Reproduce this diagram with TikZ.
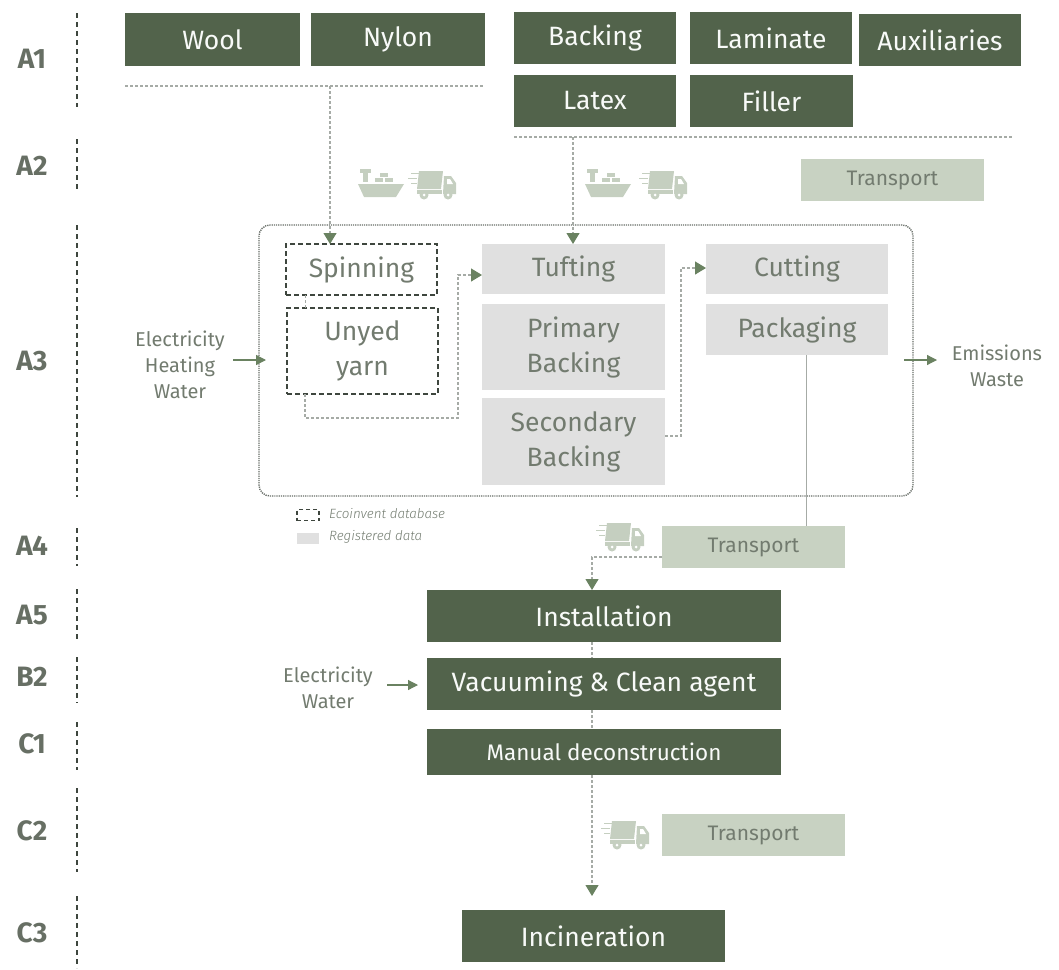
\documentclass[tikz,border=0pt]{standalone}
\usepackage{fontspec}
\setmainfont{Fira Sans}[ItalicFont=Fira Sans Light Italic]
\usetikzlibrary{arrows.meta,calc}
\definecolor{dk}{HTML}{52634B}
\definecolor{lt}{HTML}{C8D2C2}
\definecolor{gr}{HTML}{E0E0E0}
\definecolor{ln}{HTML}{A6ABA6}
\definecolor{ar}{HTML}{6A8261}
\definecolor{tx}{HTML}{727B6F}
\definecolor{ic}{HTML}{C5CFC0}
\definecolor{dsh}{HTML}{3E463E}
\tikzset{
 bx/.style={inner sep=0pt,outer sep=0pt,align=center,font=\fontsize{26.5}{35}\selectfont},
 dark/.style={bx,fill=dk,text=white!88!lt},
 light/.style={bx,fill=lt,text=tx,font=\fontsize{21}{26}\selectfont},
 grey/.style={bx,fill=gr,text=tx},
 eco/.style={bx,draw=dsh,line width=1.5pt,dash pattern=on 5pt off 3pt,text=tx},
 tag/.style={font=\bfseries\fontsize{28}{30}\selectfont,text=tx!90!black},
 side/.style={font=\fontsize{20}{26}\selectfont,text=tx,align=center,inner sep=0pt},
 leg/.style={font=\itshape\fontsize{13.4}{15}\selectfont,text=tx,anchor=west,inner sep=0pt},
 conn/.style={draw=ln,line width=1.2pt,dash pattern=on 3pt off 2pt},
 flow/.style={conn,-{Triangle[length=11pt,width=13pt,color=ar]}},
 small/.style={draw=ar,line width=1.2pt,-{Triangle[length=10pt,width=10pt,color=ar]}},
 sep/.style={draw=dsh,line width=1.5pt,dash pattern=on 5pt off 4pt},
 ship/.pic={
  \fill[ic] (0,0) -- (46,0) -- (38,13) -- (6,13) -- cycle;
  \fill[ic] (5,-2) rectangle (10,-15);
  \fill[ic] (2,-15) rectangle (13,-11);
  \fill[ic] (17,-2) rectangle (25,-6);\fill[ic] (27,-2) rectangle (35,-6);
  \fill[ic] (22,-7) rectangle (30,-11);
 },
 truck/.pic={
  \fill[ic] (9,-15) -- (33,-15) -- (31,3) -- (7,3) -- cycle;
  \fill[ic] (1,-13) rectangle (9,-12);\fill[ic] (-2,-8) rectangle (7,-7);\fill[ic] (1,-3) rectangle (7,-2);
  \fill[ic] (34,-10) -- (41,-10) -- (46,-3) -- (46,8) -- (33,8) -- cycle;
  \fill[white] (37,-7) -- (40,-7) -- (43,-2) -- (37,-2) -- cycle;
  \fill[ic] (7,4) rectangle (32,8);
  \fill[ic] (14,9) circle (4.5pt);\fill[ic] (38,9) circle (4.5pt);
  \fill[white] (14,9) circle (1.5pt);\fill[white] (38,9) circle (1.5pt);
 }
}
\newcommand{\bxn}[7]{% name x1 y1 x2 y2 style text
 \pgfmathsetmacro{\bw}{#4-#2}\pgfmathsetmacro{\bh}{#5-#3}
 \node[#6,minimum width=\bw pt,minimum height=\bh pt] (#1) at ({(#2+#4)/2},{(#3+#5)/2}) {#7};}
\begin{document}
\begin{tikzpicture}[x=1pt,y=-1pt]
\useasboundingbox (0,0) rectangle (1059,969);
% stage bars and tags
\foreach \n/\a/\b/\l/\m in {ta/13/107/A1/59,tb/139/190/A2/166,tc/225/497/A3/361,td/528/566/A4/546,te/589/641/A5/615,tf/657/703/B2/677,tg/722/770/C1/744,th/788/872/C2/831,ti/896/968/C3/933}{
 \coordinate (\n1) at (77,\a);\coordinate (\n2) at (77,\b);
 \draw[sep] (\n1) -- (\n2);
 \node[tag] (\n) at (32,\m) {\l};
}
% container
\node[draw=dsh!80,line width=1.4pt,dash pattern=on 1.2pt off 1pt,rounded corners=11pt,minimum width=654pt,minimum height=271pt,inner sep=0pt] (plant) at (586,360.5) {};
% A1
\bxn{wool}{125}{13}{300}{66}{dark}{Wool}
\bxn{nylon}{311}{13}{485}{66}{dark}{Nylon}
\bxn{backing}{514}{12}{676}{64}{dark}{Backing}
\bxn{laminate}{690}{12}{852}{64}{dark}{Laminate}
\bxn{aux}{859}{14}{1021}{66}{dark}{Auxiliaries}
\bxn{latex}{514}{75}{676}{127}{dark}{Latex}
\bxn{filler}{690}{75}{853}{127}{dark}{Filler}
\bxn{trA}{801}{159}{984}{201}{light}{Transport}
% A3
\bxn{spin}{286}{244}{437}{295}{eco}{Spinning}
\bxn{unyed}{287}{308}{438}{394}{eco}{Unyed\\yarn}
\bxn{tuft}{482}{244}{665}{294}{grey}{Tufting}
\bxn{prim}{482}{304}{665}{390}{grey}{Primary\\Backing}
\bxn{sec}{482}{398}{665}{485}{grey}{Secondary\\Backing}
\bxn{cut}{706}{244}{888}{294}{grey}{Cutting}
\bxn{pack}{706}{304}{888}{355}{grey}{Packaging}
% lower
\bxn{trB}{662}{526}{845}{568}{light}{Transport}
\bxn{inst}{427}{590}{781}{642}{dark}{Installation}
\bxn{vac}{427}{658}{781}{710}{dark}{Vacuuming \& Clean agent}
\bxn{man}{427}{729}{781}{775}{dark,font=\fontsize{22.5}{26}\selectfont}{Manual deconstruction}
\bxn{trC}{662}{814}{845}{856}{light}{Transport}
\bxn{inc}{462}{910}{725}{962}{dark}{Incineration}
% side labels
\node[side] (inA) at (180,365) {Electricity\\Heating\\Water};
\node[side] (out) at (997,366) {Emissions\\Waste};
\node[side] (inB) at (328,688) {Electricity\\Water};
% legend
\node[draw=dsh,line width=1.2pt,dash pattern=on 4pt off 3pt,minimum width=22pt,minimum height=11pt,inner sep=0pt] (legA) at (308,515) {};
\node[fill=gr,minimum width=22pt,minimum height=11pt,inner sep=0pt] (legB) at (308,538) {};
\node[leg] (legAt) at (329,514) {Ecoinvent database};
\node[leg] (legBt) at (329,537) {Registered data};
% collector lines
\coordinate (c1a) at (125,86);\coordinate (c1b) at (484,86);
\coordinate (c2a) at (514,137);\coordinate (c2b) at (1012,137);
\draw[conn] (c1a) -- (c1b);
\draw[conn] (c2a) -- (c2b);
% flows
\coordinate (c1m) at (330,86);\coordinate (c2m) at (573,137);
\draw[flow] (c1m) -- (c1m |- spin.north);
\draw[flow] (c2m) -- (c2m |- tuft.north);
\draw[conn] ([xshift=-56pt]spin.south) -- ([xshift=-57pt]unyed.north);
\coordinate (u1) at (305,418);\coordinate (u2) at (458,418);\coordinate (u3) at (458,275);
\draw[flow] (u1 |- unyed.south) -- (u1) -- (u2) -- (u3) -- (u3 -| tuft.west);
\coordinate (s1) at (681,436);\coordinate (s2) at (681,268);
\draw[flow] (s1 -| sec.east) -- (s1) -- (s2) -- (s2 -| cut.west);
\coordinate (p1) at (806,355);
\draw[draw=ln,line width=1pt] (p1) -- (p1 |- trB.north);
\coordinate (t1) at (592,557);
\draw[flow] (t1 -| trB.west) -- (t1) -- (t1 |- inst.north);
\coordinate (m) at (592,700);
\draw[conn] (m |- inst.south) -- (m |- vac.north);
\draw[conn] (m |- vac.south) -- (m |- man.north);
\coordinate (f) at (592,896);
\draw[flow] (m |- man.south) -- (f);
% side arrows
\coordinate (aa) at (233,360);\coordinate (ab) at (266,360);
\coordinate (ba) at (904,360);\coordinate (bb) at (937,360);
\coordinate (ca) at (387,685);\coordinate (cb) at (418,685);
\draw[small] (aa) -- (ab);
\draw[small] (ba) -- (bb);
\draw[small] (ca) -- (cb);
% icons
\pic at (358,184) {ship};
\pic at (410,186) {truck};
\pic at (585,184) {ship};
\pic at (641,186) {truck};
\pic at (598,538) {truck};
\pic at (603,836) {truck};
\end{tikzpicture}
\end{document}
